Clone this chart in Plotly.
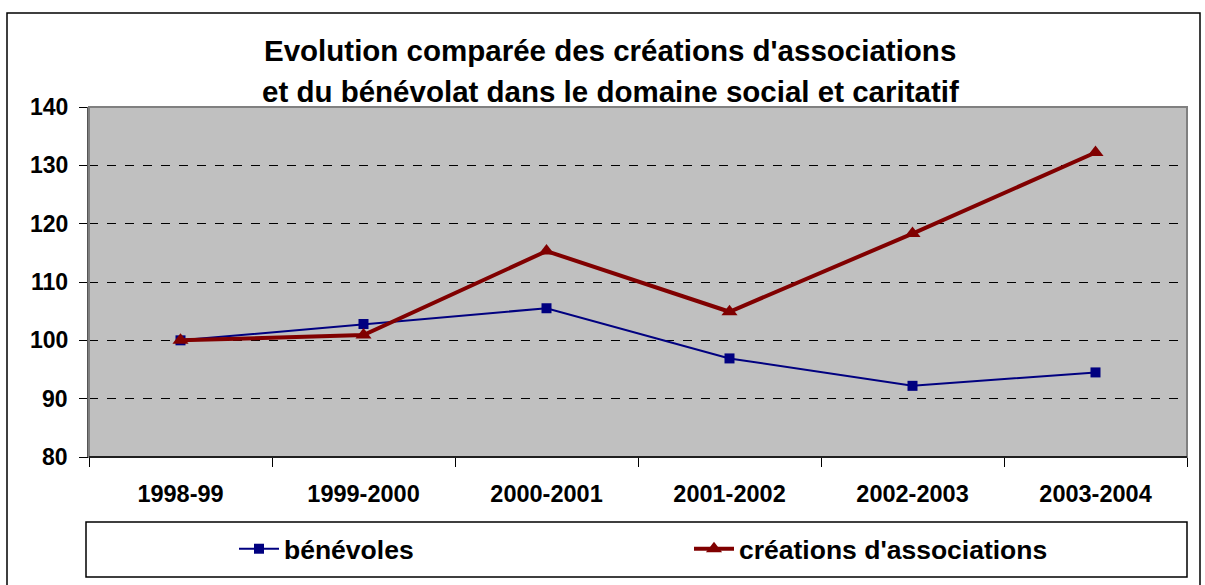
import plotly.graph_objects as go

categories = ["1998-99", "1999-2000", "2000-2001", "2001-2002", "2002-2003", "2003-2004"]
benevoles = [100, 102.8, 105.5, 96.9, 92.2, 94.5]
creations = [100, 100.9, 115.3, 104.9, 118.3, 132.2]
y_ticks = [80, 90, 100, 110, 120, 130, 140]
title_lines = ["Evolution comparée des créations d'associations",
               "et du bénévolat dans le domaine social et caritatif"]

FONT = "Liberation Sans, Arial, sans-serif"

fig = go.Figure()
fig.add_trace(go.Scatter(
    x=categories, y=benevoles, name="bénévoles", mode="lines+markers",
    line=dict(color="#000080", width=2),
    marker=dict(symbol="square", size=10, color="#000080"),
))
fig.add_trace(go.Scatter(
    x=categories, y=creations, name="créations d'associations", mode="lines+markers",
    line=dict(color="#800000", width=4),
    marker=dict(symbol="triangle-up", size=14, color="#800000"),
))

L, R, T, B = 89, 18, 107, 128
W, H = 1205, 585
pw, ph = W - L - R, H - T - B

def px(x):
    return (x - L) / pw

def py(y):
    return (H - B - y) / ph

annotations = [
    dict(text="<b>" + title_lines[0] + "</b>", xref="paper", yref="paper",
         x=px(610), y=py(50), xanchor="center", yanchor="middle", showarrow=False,
         font=dict(family=FONT, size=29.5, color="black")),
    dict(text="<b>" + title_lines[1] + "</b>", xref="paper", yref="paper",
         x=px(610), y=py(92), xanchor="center", yanchor="middle", showarrow=False,
         font=dict(family=FONT, size=29.5, color="black")),
]
for v in y_ticks:
    annotations.append(dict(
        text="<b>%d</b>" % v, xref="paper", yref="y", x=px(70), y=v,
        xanchor="right", yanchor="middle", showarrow=False,
        font=dict(family=FONT, size=23, color="black")))

fig.update_layout(
    width=W, height=H,
    margin=dict(l=L, r=R, t=T, b=B),
    paper_bgcolor="white",
    plot_bgcolor="#C0C0C0",
    font=dict(family=FONT, size=22, color="black"),
    annotations=annotations,
    showlegend=True,
    legend=dict(
        orientation="h", x=px(234), xanchor="left", y=py(549), yanchor="middle",
        font=dict(family=FONT, size=26.5, color="black", weight="bold"),
        bgcolor="rgba(0,0,0,0)", borderwidth=0,
        entrywidth=400, itemwidth=40,
    ),
    xaxis=dict(
        type="category", range=[-0.5, 5.5],
        tickson="boundaries", ticks="outside", ticklen=9, tickcolor="black",
        showline=True, linecolor="black", linewidth=1, mirror=False,
        showgrid=False,
        tickfont=dict(family=FONT, size=23.5, color="black", weight="bold"),
        ticklabelstandoff=16,
    ),
    yaxis=dict(
        range=[80, 140], tickvals=y_ticks,
        ticks="outside", ticklen=8, tickcolor="black",
        showline=True, linecolor="#555555", linewidth=2,
        showgrid=True, gridcolor="black", gridwidth=1, griddash="dash",
        zeroline=False, showticklabels=False,
    ),
    shapes=[
        dict(type="rect", xref="paper", yref="paper",
             x0=px(7), x1=px(1200), y0=py(592), y1=py(13),
             line=dict(color="black", width=1.5), fillcolor="rgba(0,0,0,0)", layer="below"),
        dict(type="rect", xref="paper", yref="paper",
             x0=0, x1=1, y0=0, y1=1,
             line=dict(color="#808080", width=2), fillcolor="rgba(0,0,0,0)", layer="above"),
        dict(type="line", xref="paper", yref="paper",
             x0=0, x1=1, y0=0, y1=0,
             line=dict(color="black", width=1.5), layer="above"),
        dict(type="rect", xref="paper", yref="paper",
             x0=px(86), x1=px(1187), y0=py(577), y1=py(522),
             line=dict(color="black", width=1.5), fillcolor="rgba(0,0,0,0)"),
    ],
)

fig.write_html("out.html", config={"displayModeBar": False},
               post_script="document.body.style.margin='0px';")
